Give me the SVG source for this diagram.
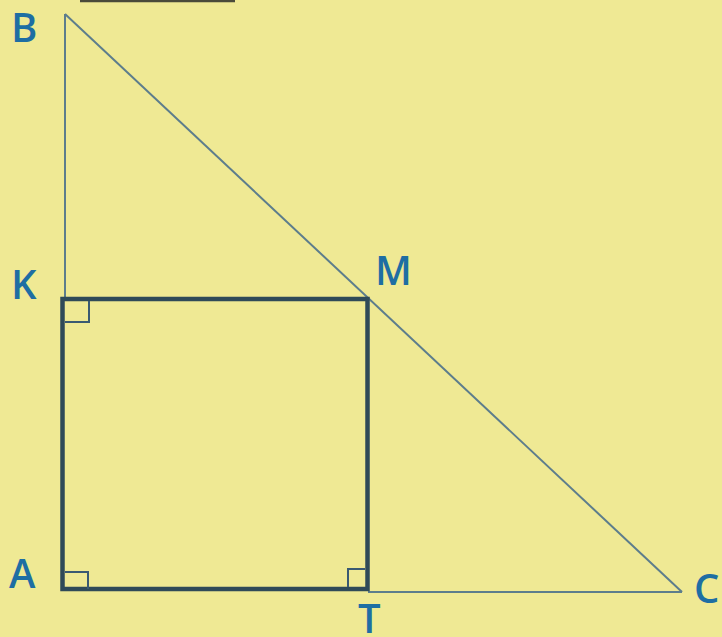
<svg xmlns="http://www.w3.org/2000/svg" width="722" height="637" viewBox="0 0 722 637">
<style>
.thin{stroke:#5d7d8c;stroke-width:2;fill:none}
.sq{stroke:#2f4a58;stroke-width:4.5;fill:none;stroke-linejoin:miter}
.ra{stroke:#3a5a72;stroke-width:2;fill:none}
.lbl{font-family:"Open Sans","Liberation Sans",sans-serif;font-size:40px;font-weight:600;fill:#1e6ea3}
</style>
<rect width="722" height="637" fill="#efe994"/>
<g id="connectors">
<line class="thin" x1="80" y1="1" x2="235" y2="1" style="stroke:#4a4a3a;stroke-width:2.5"/>
<line class="thin" x1="65" y1="14" x2="65" y2="298"/>
<line class="thin" x1="65" y1="14" x2="682" y2="592"/>
<line class="thin" x1="368" y1="592" x2="682" y2="592"/>
</g>
<g id="square">
<rect class="sq" x="62.5" y="299" width="305" height="290"/>
<polyline class="ra" points="65,322 89,322 89,301"/>
<polyline class="ra" points="88,589 88,572 65,572"/>
<polyline class="ra" points="365,569 348,569 348,587"/>
</g>
<g id="labels">
<text class="lbl" x="11" y="42">B</text>
<text class="lbl" x="11" y="299">K</text>
<text class="lbl" x="375" y="285">M</text>
<text class="lbl" x="9" y="588">A</text>
<text class="lbl" x="358" y="633">T</text>
<text class="lbl" x="694" y="603">C</text>
</g>
</svg>
